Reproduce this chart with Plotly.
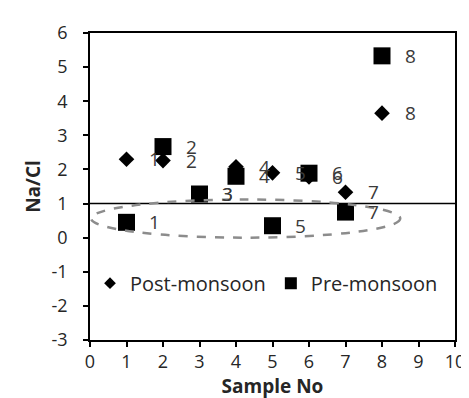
import plotly.graph_objects as go

samples = [1, 2, 3, 4, 5, 6, 7, 8]
post_monsoon = [2.3, 2.26, 1.28, 2.08, 1.9, 1.78, 1.33, 3.65]
pre_monsoon = [0.45, 2.67, 1.28, 1.8, 0.35, 1.89, 0.75, 5.33]
point_labels = ["1", "2", "3", "4", "5", "6", "7", "8"]
x_ticks = list(range(0, 11))
y_ticks = list(range(-3, 7))

FONT = "Open Sans"
TXT = "#262626"

fig = go.Figure()

# real data traces
fig.add_trace(go.Scatter(x=samples, y=post_monsoon, mode="markers",
                         marker=dict(symbol="diamond", size=12, color="black"),
                         showlegend=False))
fig.add_trace(go.Scatter(x=samples, y=pre_monsoon, mode="markers",
                         marker=dict(symbol="square", size=17, color="black"),
                         showlegend=False))
# legend entries
fig.add_trace(go.Scatter(x=[None], y=[None], mode="markers", name="Post-monsoon",
                         marker=dict(symbol="diamond", size=9, color="black")))
fig.add_trace(go.Scatter(x=[None], y=[None], mode="markers", name="Pre-monsoon",
                         marker=dict(symbol="square", size=12, color="black")))

annotations = []
for xs, ys in ((samples, post_monsoon), (samples, pre_monsoon)):
    for x, y, t in zip(xs, ys, point_labels):
        annotations.append(dict(x=x, y=y, text=t, showarrow=False, xshift=28,
                                font=dict(family=FONT, size=19, color="#3a3a3a")))

shapes = [
    dict(type="line", xref="paper", x0=0, x1=1, y0=1, y1=1,
         line=dict(color="black", width=1.5)),
    dict(type="circle", x0=0.03, x1=8.5, y0=0.0, y1=1.12,
         line=dict(color="#8c8c8c", width=2.5, dash="dash")),
]

fig.update_layout(
    width=469, height=398,
    margin=dict(l=82, r=17, t=19, b=66),
    plot_bgcolor="white", paper_bgcolor="white",
    font=dict(family=FONT, size=19, color=TXT),
    annotations=annotations,
    shapes=shapes,
    legend=dict(orientation="h", x=0.0, y=0.185, xanchor="left", yanchor="middle",
                bgcolor="rgba(0,0,0,0)", font=dict(family=FONT, size=20, color=TXT),
                itemwidth=30, tracegroupgap=0),
    xaxis=dict(range=[0, 10], tickvals=x_ticks, ticktext=[str(v) for v in x_ticks],
               showgrid=False, zeroline=False,
               showline=True, mirror=True, linecolor="black", linewidth=1.5,
               ticks="outside", ticklen=5, tickcolor="black", tickwidth=1.5,
               tickfont=dict(family=FONT, size=18, color=TXT),
               title=dict(text="<b>Sample No</b>", standoff=0,
                          font=dict(family=FONT, size=19, color=TXT))),
    yaxis=dict(range=[-3, 6], tickvals=y_ticks, ticktext=[str(v) for v in y_ticks],
               showgrid=False, zeroline=False,
               showline=True, mirror=True, linecolor="black", linewidth=1.5,
               ticks="outside", ticklen=5, tickcolor="black", tickwidth=1.5,
               ticklabelstandoff=12,
               tickfont=dict(family=FONT, size=18, color=TXT),
               title=dict(text="<b>Na/Cl</b>", standoff=6,
                          font=dict(family=FONT, size=19, color=TXT))),
)

fig.write_html("out.html")
